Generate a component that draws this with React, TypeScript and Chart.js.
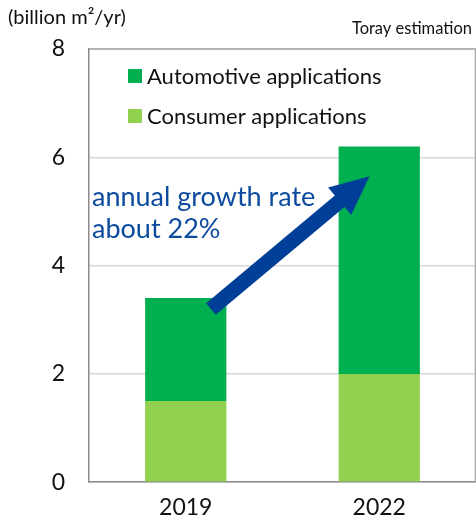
import React, { useEffect, useRef } from "react";
import { Chart, registerables } from "chart.js";

Chart.register(...registerables);

const categories = ["2019", "2022"];
const consumer = [1.5, 2.0];
const automotive = [1.9, 4.2];
const yTicks = [0, 2, 4, 6, 8];
const unitLabel = "(billion m²/yr)";
const sourceLabel = "Toray estimation";
const growthText = ["annual growth rate", "about 22%"];
// arrow endpoints in data space: [category index, value]
const arrowFrom = [0.13, 3.2];
const arrowTo = [0.95, 5.65];

const FONT = "Lato, 'Noto Sans', sans-serif";
const AUTO_COLOR = "#00B050";
const CONS_COLOR = "#92D050";
const BLUE = "#003F98";

const overlay = {
  id: "overlay",
  afterDatasetsDraw(chart: any) {
    const { ctx, chartArea, scales } = chart;
    const xs = scales.x;
    const ys = scales.y;
    ctx.save();
    // frame top/right
    ctx.strokeStyle = "#A6A6A6";
    ctx.lineWidth = 1.5;
    ctx.beginPath();
    ctx.moveTo(chartArea.left, chartArea.top);
    ctx.lineTo(chartArea.right - 0.5, chartArea.top);
    ctx.lineTo(chartArea.right - 0.5, chartArea.bottom);
    ctx.stroke();

    // growth text
    ctx.fillStyle = "#0B4A9E";
    ctx.font = `27px ${FONT}`;
    ctx.textAlign = "left";
    ctx.textBaseline = "middle";
    ctx.fillText(growthText[0], chartArea.left + 3, 197);
    ctx.fillText(growthText[1], chartArea.left + 3, 229);

    // arrow
    const x0 = xs.getPixelForValue(arrowFrom[0]);
    const y0 = ys.getPixelForValue(arrowFrom[1]);
    const x1 = xs.getPixelForValue(arrowTo[0]);
    const y1 = ys.getPixelForValue(arrowTo[1]);
    const ang = Math.atan2(y1 - y0, x1 - x0);
    const len = Math.hypot(x1 - x0, y1 - y0);
    const sw = 15;
    const hw = 36;
    const hl = 39;
    ctx.translate(x0, y0);
    ctx.rotate(ang);
    ctx.fillStyle = BLUE;
    ctx.beginPath();
    ctx.moveTo(0, -sw / 2);
    ctx.lineTo(len - hl, -sw / 2);
    ctx.lineTo(len - hl, -hw / 2);
    ctx.lineTo(len, 0);
    ctx.lineTo(len - hl, hw / 2);
    ctx.lineTo(len - hl, sw / 2);
    ctx.lineTo(0, sw / 2);
    ctx.closePath();
    ctx.fill();
    ctx.setTransform(1, 0, 0, 1, 0, 0);

    // legend
    const items = [
      { label: chart.data.datasets[1].label, color: AUTO_COLOR, y: 76 },
      { label: chart.data.datasets[0].label, color: CONS_COLOR, y: 116 },
    ];
    ctx.font = `22px ${FONT}`;
    for (const it of items) {
      ctx.fillStyle = it.color;
      ctx.fillRect(128, it.y - 7, 14, 14);
      ctx.fillStyle = "#111";
      ctx.fillText(it.label, 147, it.y + 1);
    }

    // titles
    ctx.fillStyle = "#111";
    ctx.font = `20px ${FONT}`;
    ctx.textAlign = "left";
    ctx.fillText(unitLabel, 8, 18);
    ctx.font = `16.5px ${FONT}`;
    ctx.textAlign = "right";
    ctx.fillText(sourceLabel, 472, 29);
    ctx.restore();
  },
};

export default function App() {
  const ref = useRef<HTMLCanvasElement>(null);
  useEffect(() => {
    const chart = new Chart(ref.current as HTMLCanvasElement, {
      type: "bar",
      data: {
        labels: categories,
        datasets: [
          { label: "Consumer applications", data: consumer, backgroundColor: CONS_COLOR, barPercentage: 0.42, categoryPercentage: 1 },
          { label: "Automotive applications", data: automotive, backgroundColor: AUTO_COLOR, barPercentage: 0.42, categoryPercentage: 1 },
        ],
      },
      options: {
        animation: false,
        responsive: false,
        layout: { padding: { top: 49, right: 0, left: 0, bottom: 0 } },
        plugins: { legend: { display: false }, tooltip: { enabled: false } },
        scales: {
          x: {
            stacked: true,
            grid: { display: false, drawTicks: false },
            border: { color: "#8C8C8C", width: 1.5 },
            ticks: { color: "#111", font: { family: FONT, size: 23 }, padding: 12 },
            afterFit: (s: any) => { s.height = 37; },
          },
          y: {
            stacked: true,
            min: 0,
            max: 8,
            afterBuildTicks: (s: any) => { s.ticks = yTicks.map((v) => ({ value: v })); },
            grid: { color: "#D9D9D9", lineWidth: 1.5, drawTicks: false },
            border: { color: "#8C8C8C", width: 1.5 },
            ticks: { color: "#111", font: { family: FONT, size: 23 }, padding: 24 },
            afterFit: (s: any) => { s.width = 89; },
          },
        },
      },
      plugins: [overlay],
    });
    return () => chart.destroy();
  }, []);
  return (
    <div style={{ position: "fixed", left: 0, top: 0, width: 476, height: 520, background: "#fff" }}>
      <canvas ref={ref} width={476} height={520} />
    </div>
  );
}
